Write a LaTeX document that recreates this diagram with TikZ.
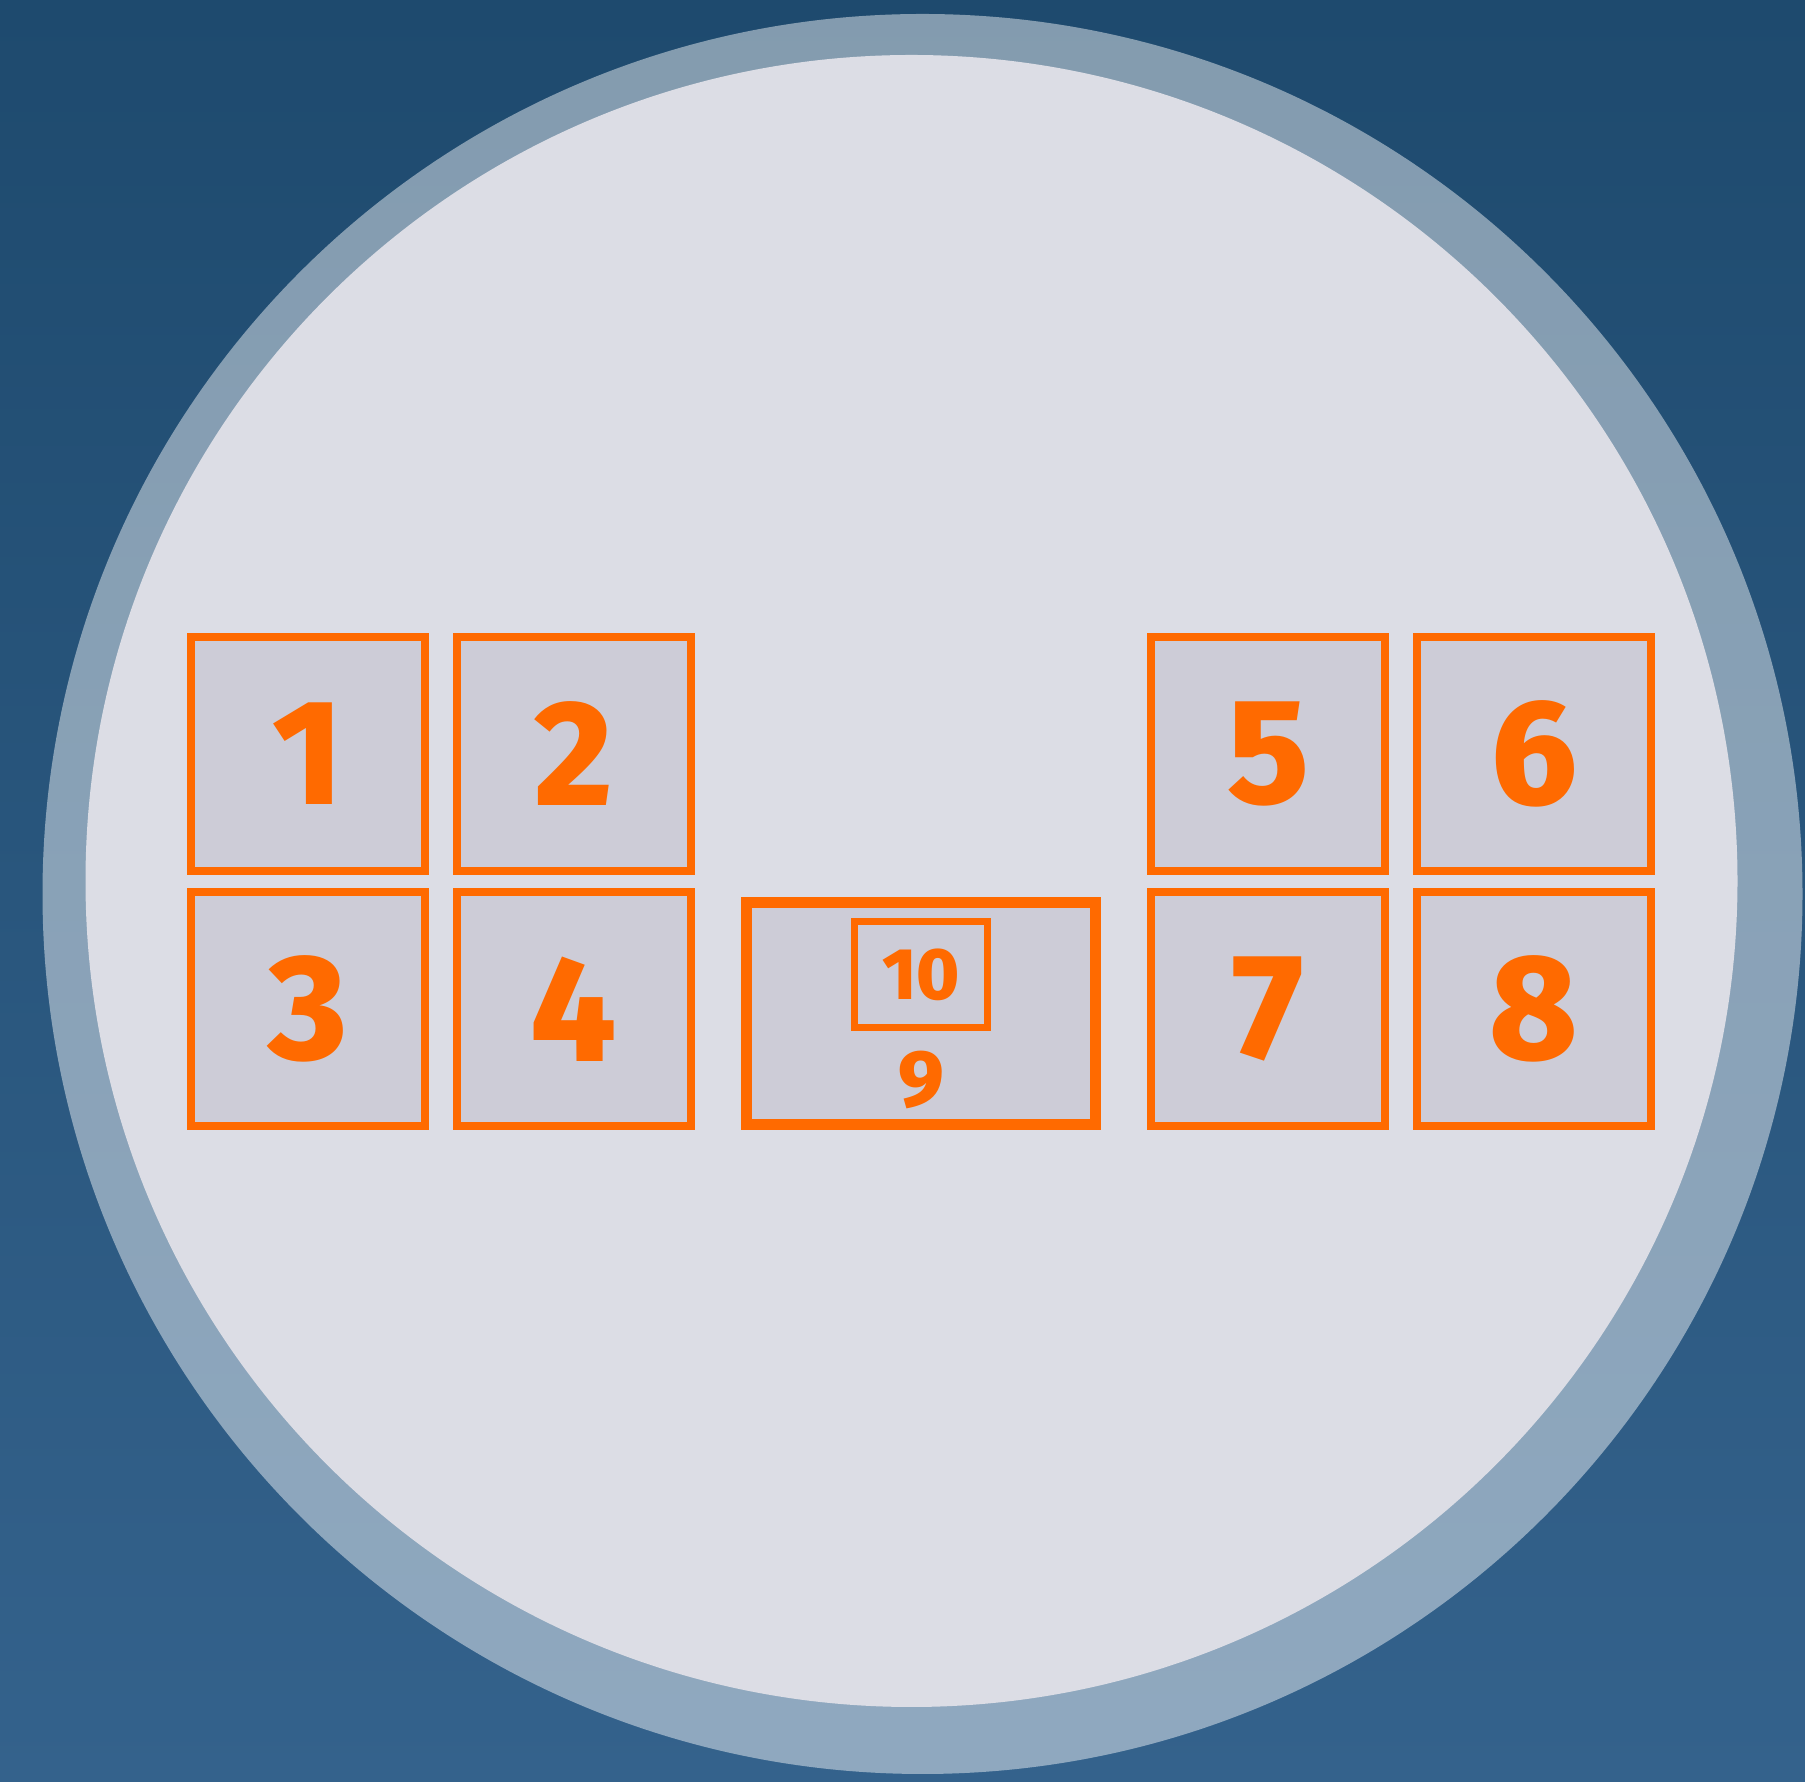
\documentclass[tikz,border=0pt]{standalone}
\usepackage{fontspec}
\IfFontExistsTF{Fira Sans ExtraBold}
  {\newfontfamily\digfont{Fira Sans ExtraBold}[RawFeature={+lnum;-onum}]}
  {\IfFontExistsTF{FiraSans-ExtraBold.otf}
    {\newfontfamily\digfont{FiraSans-ExtraBold.otf}[RawFeature={+lnum;-onum}]}
    {\newfontfamily\digfont{Fira Sans}[UprightFont=* Bold,RawFeature={+lnum;-onum}]}}
\definecolor{bgtop}{HTML}{1E4A6E}
\definecolor{bgbot}{HTML}{34628C}
\definecolor{inner}{HTML}{DCDDE5}
\definecolor{boxfill}{HTML}{CDCCD7}
\definecolor{orng}{HTML}{FF6A00}
\begin{document}
\begin{tikzpicture}[x=1pt,y=1pt,
  cell/.style={draw=orng,fill=boxfill,line width=8pt,rectangle,inner sep=0pt,
    minimum width=234pt,minimum height=234pt,text=orng,
    font=\digfont\fontsize{150pt}{150pt}\selectfont},
  bigcell/.style={draw=orng,fill=boxfill,line width=11pt,rectangle,inner sep=0pt,
    minimum width=349pt,minimum height=222pt},
  smallcell/.style={draw=orng,line width=7pt,rectangle,inner sep=0pt,
    minimum width=133pt,minimum height=106pt,text=orng,
    font=\digfont\fontsize{73pt}{73pt}\selectfont},
  lbl/.style={text=orng,inner sep=0pt,font=\digfont\fontsize{80pt}{80pt}\selectfont}]
\useasboundingbox (0,0) rectangle (1805,1782);
\shade[top color=bgtop,bottom color=bgbot] (0,0) rectangle (1805,1782);
\fill[white,fill opacity=0.45] (922.5,888) circle[radius=880];
\fill[inner] (911.5,901) circle[radius=826];
\node[cell] (b1) at (308,1028) {1};
\node[cell] (b2) at (574,1028) {2};
\node[cell] (b3) at (308,773) {3};
\node[cell] (b4) at (574,773) {4};
\node[cell] (b5) at (1268,1028) {5};
\node[cell] (b6) at (1534,1028) {6};
\node[cell] (b7) at (1268,773) {7};
\node[cell] (b8) at (1534,773) {8};
\node[bigcell] (b9) at (921,768.5) {};
\node[smallcell] (b10) at (921,807.5) {10};
\node[lbl] (t9) at (921,702) {9};
\end{tikzpicture}
\end{document}
